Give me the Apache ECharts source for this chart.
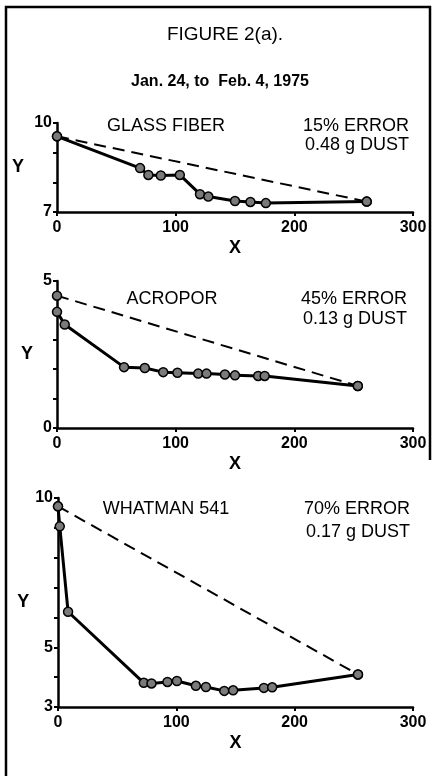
<!DOCTYPE html>
<html>
<head>
<meta charset="utf-8">
<script src="https://cdn.jsdelivr.net/npm/echarts@6/dist/echarts.min.js"></script>
<style>
  html, body { margin: 0; padding: 0; background: #fff; }
  #chart { width: 432px; height: 776px; }
</style>
</head>
<body>
<div id="chart"></div>
<script>
// x axis (same for all three panels)
const xTicks = [0, 100, 200, 300];

// panel 1 - glass fiber
const glassX = [0, 70, 77, 87.5, 103.5, 120.5, 127.5, 150, 163, 176, 261];
const glassY = [9.55, 8.48, 8.25, 8.23, 8.25, 7.6, 7.52, 7.37, 7.34, 7.3, 7.35];
const glassRefX = [0, 261];
const glassRefY = [9.55, 7.35];
const glassYLabels = [7, 10];

// panel 2 - acropor
const acroX = [0, 6.5, 56.5, 74, 89.5, 101.5, 119, 126, 141.5, 150, 169.5, 175, 253.5];
const acroY = [3.95, 3.52, 2.07, 2.04, 1.9, 1.88, 1.85, 1.85, 1.82, 1.79, 1.77, 1.77, 1.43];
const acroRefX = [0, 253.5];
const acroRefY = [4.5, 1.43];
const acroYLabels = [0, 5];

// panel 3 - whatman 541
const whatX = [0, 1.5, 8.5, 72.5, 79, 92.5, 100.5, 116.5, 125, 140.5, 148, 174, 181, 253.5];
const whatY = [9.72, 9.05, 6.19, 3.81, 3.79, 3.84, 3.87, 3.71, 3.67, 3.54, 3.56, 3.64, 3.66, 4.09];
const whatRefX = [0, 253.5];
const whatRefY = [9.72, 4.09];
const whatYLabels = [3, 5, 10];

const FONT = '"Liberation Sans", Arial, sans-serif';

const pairs = (xs, ys) => xs.map((x, i) => [x, ys[i]]);

const chart = echarts.init(document.getElementById('chart'), null, { renderer: 'canvas' });

const grids = [
  { left: 57, top: 123, width: 356, height: 89 },
  { left: 57, top: 281, width: 356, height: 147 },
  { left: 58, top: 498, width: 355, height: 209 }
];

const yRanges = [
  { min: 7, max: 10, labels: glassYLabels, nameGap: 33 },
  { min: 0, max: 5, labels: acroYLabels, nameGap: 24 },
  { min: 3, max: 10, labels: whatYLabels, nameGap: 28 }
];

const axisLine = { show: true, onZero: false, lineStyle: { color: '#000', width: 2.5 } };
const tickLabel = { color: '#000', fontFamily: FONT, fontWeight: 'bold', fontSize: 16 };

const xAxes = grids.map((g, i) => ({
  type: 'value',
  gridIndex: i,
  min: xTicks[0],
  max: xTicks[xTicks.length - 1],
  interval: xTicks[1] - xTicks[0],
  name: 'X',
  nameLocation: 'middle',
  nameGap: 27,
  nameTextStyle: { color: '#000', fontFamily: FONT, fontWeight: 'bold', fontSize: 18 },
  axisLine: axisLine,
  axisTick: { show: true, length: 4, lineStyle: { color: '#000', width: 2 } },
  axisLabel: Object.assign({ margin: 8 }, tickLabel),
  splitLine: { show: false }
}));

const yAxes = yRanges.map((r, i) => ({
  type: 'value',
  gridIndex: i,
  min: r.min,
  max: r.max,
  interval: 1,
  name: 'Y',
  nameLocation: 'middle',
  nameRotate: 0,
  nameGap: r.nameGap,
  nameTextStyle: { color: '#000', fontFamily: FONT, fontWeight: 'bold', fontSize: 18 },
  axisLine: axisLine,
  axisTick: { show: true, length: 4, lineStyle: { color: '#000', width: 2 } },
  axisLabel: Object.assign({
    margin: 5,
    formatter: v => (r.labels.indexOf(v) >= 0 ? String(v) : '')
  }, tickLabel),
  splitLine: { show: false }
}));

const solid = (data, i) => ({
  type: 'line',
  xAxisIndex: i,
  yAxisIndex: i,
  data: data,
  symbol: 'circle',
  symbolSize: 9,
  lineStyle: { color: '#000', width: 3 },
  itemStyle: { color: '#7a7a7a', borderColor: '#000', borderWidth: 1.5 },
  z: 3,
  animation: false
});

const dashed = (data, i) => ({
  type: 'line',
  xAxisIndex: i,
  yAxisIndex: i,
  data: data,
  symbol: 'circle',
  symbolSize: 9,
  lineStyle: { color: '#000', width: 2, type: [12, 7] },
  itemStyle: { color: '#7a7a7a', borderColor: '#000', borderWidth: 1.5 },
  z: 2,
  animation: false
});

const txt = (text, x, y, size, align, bold) => ({
  type: 'text',
  x: x,
  y: y,
  style: {
    text: text,
    fill: '#000',
    font: (bold ? 'bold ' : '') + size + 'px ' + FONT,
    align: align,
    verticalAlign: 'middle'
  }
});

chart.setOption({
  animation: false,
  grid: grids,
  xAxis: xAxes,
  yAxis: yAxes,
  series: [
    dashed(pairs(glassRefX, glassRefY), 0),
    solid(pairs(glassX, glassY), 0),
    dashed(pairs(acroRefX, acroRefY), 1),
    solid(pairs(acroX, acroY), 1),
    dashed(pairs(whatRefX, whatRefY), 2),
    solid(pairs(whatX, whatY), 2)
  ],
  graphic: [
    // frame
    {
      type: 'polyline',
      shape: { points: [[6, 776], [6, 7], [430, 7], [430, 460]] },
      style: { stroke: '#000', lineWidth: 2.5, fill: null }
    },
    txt('FIGURE 2(a).', 225, 35, 19, 'center', false),
    txt('Jan. 24, to  Feb. 4, 1975', 220, 82, 16, 'center', true),
    txt('GLASS FIBER', 166, 126, 18, 'center', false),
    txt('15% ERROR', 409, 126, 18, 'right', false),
    txt('0.48 g DUST', 409, 145, 18, 'right', false),
    txt('ACROPOR', 172, 299, 18, 'center', false),
    txt('45% ERROR', 407, 299, 18, 'right', false),
    txt('0.13 g DUST', 407, 319, 18, 'right', false),
    txt('WHATMAN 541', 166, 509, 18, 'center', false),
    txt('70% ERROR', 410, 509, 18, 'right', false),
    txt('0.17 g DUST', 410, 532, 18, 'right', false)
  ]
});

window.addEventListener('resize', () => chart.resize());
</script>
</body>
</html>
